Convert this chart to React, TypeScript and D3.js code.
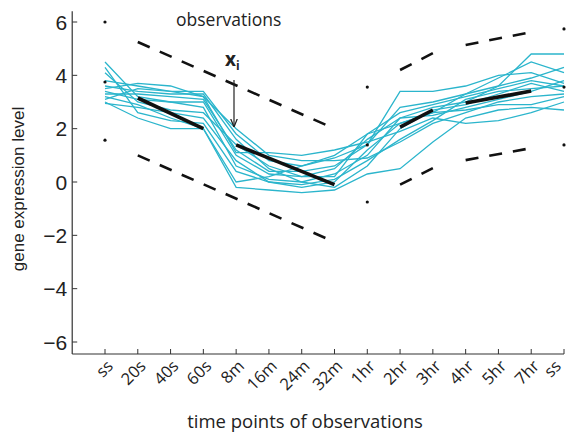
import { useEffect, useRef } from "react";
import * as d3 from "d3";

const timeLabels = ["ss", "20s", "40s", "60s", "8m", "16m", "24m", "32m", "1hr", "2hr", "3hr", "4hr", "5hr", "7hr", "ss"];
const yTicks = [6, 4, 2, 0, -2, -4, -6];

// observed trajectories (one value per time point)
const obs1 = [4.5, 3.2, 3.0, 3.0, 1.0, 0.3, 0.2, 0.5, 1.6, 2.4, 2.8, 3.0, 3.6, 4.8, 4.8];
const obs2 = [4.3, 2.6, 2.3, 2.2, 0.4, 0.0, -0.2, 0.0, 1.2, 2.2, 2.6, 3.3, 3.9, 4.5, 4.1];
const obs3 = [4.1, 3.0, 2.7, 2.6, 1.4, 0.6, 0.2, 0.2, 1.8, 2.6, 2.9, 3.2, 3.5, 3.8, 3.6];
const obs4 = [3.8, 3.6, 3.4, 3.4, 1.8, 0.8, 0.6, 0.9, 1.4, 3.4, 3.4, 3.6, 4.0, 4.1, 3.7];
const obs5 = [3.6, 3.4, 3.3, 3.3, 1.6, 0.5, 0.0, -0.2, 0.6, 2.0, 2.7, 2.9, 3.3, 3.7, 3.4];
const obs6 = [3.5, 3.7, 3.6, 3.2, 2.0, 1.0, 0.8, 0.8, 0.9, 1.5, 2.2, 2.6, 3.0, 3.2, 3.3];
const obs7 = [3.4, 3.1, 3.0, 2.8, 0.6, 0.1, 0.0, 0.3, 1.0, 2.4, 2.5, 2.8, 3.1, 3.4, 3.8];
const obs8 = [3.3, 3.3, 3.2, 3.1, 1.2, 0.4, 0.4, 0.6, 1.4, 2.8, 3.0, 3.3, 3.6, 3.9, 4.3];
const obs9 = [3.2, 2.9, 2.4, 2.0, -0.2, -0.3, -0.4, -0.3, 0.3, 0.5, 1.5, 2.4, 2.7, 2.8, 2.7];
const obs10 = [3.1, 3.5, 3.4, 3.2, 1.1, 1.1, 1.0, 1.2, 1.5, 1.9, 2.4, 2.2, 2.3, 2.6, 3.0];
const obs11 = [3.0, 2.4, 2.0, 2.0, 0.0, 0.2, 0.6, 1.0, 1.8, 2.2, 2.6, 2.7, 2.9, 2.9, 3.2];
const obs12 = [2.95, 2.8, 2.6, 2.4, 0.8, 0.0, -0.1, 0.1, 0.8, 1.6, 2.3, 3.1, 3.4, 3.5, 3.6];
const observations = [obs1, obs2, obs3, obs4, obs5, obs6, obs7, obs8, obs9, obs10, obs11, obs12];

// piecewise mean segments: [startIndex, endIndex, startValue, endValue]
const meanSegments = [
    [1, 3, 3.15, 2.0],
    [4, 7, 1.39, -0.1],
    [9, 10, 2.06, 2.7],
    [11, 13, 2.96, 3.41],
];
const upperSegments = [
    [1, 7, 5.25, 2.0],
    [9, 10, 4.2, 4.83],
    [11, 13, 5.14, 5.62],
];
const lowerSegments = [
    [1, 7, 1.0, -2.25],
    [9, 10, -0.1, 0.52],
    [11, 13, 0.82, 1.27],
];
// single points at the segment breaks: [index, value]
const pointMarks = [
    [0, 6.0], [0, 3.75], [0, 1.57],
    [8, 3.56], [8, 1.39], [8, -0.75],
    [14, 5.74], [14, 3.56], [14, 1.39],
];

const App = () => {
    const svgRef = useRef<SVGSVGElement>(null);
    const width = 571;
    const height = 433;

    useEffect(() => {
        const svgElement = svgRef.current;
        if (!svgElement) return;
        const svg = d3.select(svgElement);
        svg.selectAll("*").remove();

        const xScale = d3.scaleLinear().domain([0, 14]).range([105, 564]);
        const yScale = d3.scaleLinear().domain([-6, 6]).range([342, 22]);
        const axisLeftX = xScale(-1);
        const axisBottomY = yScale(-6.45);
        const axisTopY = yScale(6.4);

        const axisColor = "#333";
        const cyan = "#2bb5cc";

        // axes
        svg.append("line")
            .attr("x1", axisLeftX).attr("x2", axisLeftX)
            .attr("y1", axisTopY).attr("y2", axisBottomY)
            .attr("stroke", axisColor).attr("stroke-width", 1.2);
        svg.append("line")
            .attr("x1", axisLeftX).attr("x2", xScale(14))
            .attr("y1", axisBottomY).attr("y2", axisBottomY)
            .attr("stroke", axisColor).attr("stroke-width", 1.2);

        // y ticks
        const yt = svg.append("g").attr("class", "y-ticks");
        yt.selectAll("line")
            .data(yTicks)
            .join("line")
            .attr("x1", axisLeftX).attr("x2", axisLeftX + 5)
            .attr("y1", (d) => yScale(d)).attr("y2", (d) => yScale(d))
            .attr("stroke", axisColor);
        yt.selectAll("text")
            .data(yTicks)
            .join("text")
            .attr("x", axisLeftX - 5)
            .attr("y", (d) => yScale(d))
            .attr("dy", "0.36em")
            .attr("text-anchor", "end")
            .attr("font-family", "Liberation Sans, Arial, sans-serif")
            .attr("font-size", 21)
            .attr("fill", "#222")
            .text((d) => (d < 0 ? "\u2212" + Math.abs(d) : String(d)));

        // x ticks
        const xt = svg.append("g").attr("class", "x-ticks");
        xt.selectAll("line")
            .data(timeLabels)
            .join("line")
            .attr("x1", (_, i) => xScale(i)).attr("x2", (_, i) => xScale(i))
            .attr("y1", axisBottomY).attr("y2", axisBottomY - 5)
            .attr("stroke", axisColor);
        xt.selectAll("text")
            .data(timeLabels)
            .join("text")
            .attr("transform", (_, i) => {
                const x = Math.min(xScale(i) + 5, 558);
                return `translate(${x}, ${axisBottomY + 9}) rotate(-45)`;
            })
            .attr("text-anchor", "end")
            .attr("dy", "0.35em")
            .attr("font-family", "Open Sans, DejaVu Sans, sans-serif")
            .attr("font-size", 16.5)
            .attr("fill", "#222")
            .text((d) => d);

        // axis titles
        svg.append("text")
            .attr("transform", `translate(24, 189) rotate(-90)`)
            .attr("text-anchor", "middle")
            .attr("font-family", "Liberation Sans, Arial, sans-serif")
            .attr("font-size", 17)
            .attr("fill", "#222")
            .text("gene expression level");
        svg.append("text")
            .attr("x", 305)
            .attr("y", 428)
            .attr("text-anchor", "middle")
            .attr("font-family", "Open Sans, DejaVu Sans, sans-serif")
            .attr("font-size", 18.5)
            .attr("fill", "#222")
            .text("time points of observations");

        // observed lines
        const line = d3.line<number>()
            .x((_, i) => xScale(i))
            .y((d) => yScale(d));
        svg.append("g")
            .attr("class", "observations")
            .selectAll("path")
            .data(observations)
            .join("path")
            .attr("d", (d) => line(d))
            .attr("fill", "none")
            .attr("stroke", cyan)
            .attr("stroke-width", 1.3);

        // dashed bands and mean
        const drawSegments = (data: number[][], w: number, dash: string | null) => {
            svg.append("g")
                .selectAll("line")
                .data(data)
                .join("line")
                .attr("x1", (d) => xScale(d[0]))
                .attr("x2", (d) => xScale(d[1]))
                .attr("y1", (d) => yScale(d[2]))
                .attr("y2", (d) => yScale(d[3]))
                .attr("stroke", "#111")
                .attr("stroke-width", w)
                .attr("stroke-dasharray", dash);
        };
        drawSegments(upperSegments, 2.6, "13,11");
        drawSegments(lowerSegments, 2.6, "13,11");
        drawSegments(meanSegments, 3.6, null);

        svg.append("g")
            .selectAll("circle")
            .data(pointMarks)
            .join("circle")
            .attr("cx", (d) => xScale(d[0]))
            .attr("cy", (d) => yScale(d[1]))
            .attr("r", 1.6)
            .attr("fill", "#111");

        // annotations
        svg.append("text")
            .attr("x", 176)
            .attr("y", 26)
            .attr("font-family", "Open Sans, DejaVu Sans, sans-serif")
            .attr("font-size", 17.5)
            .attr("fill", "#222")
            .text("observations");

        const xi = svg.append("text")
            .attr("x", 225)
            .attr("y", 66)
            .attr("font-family", "Open Sans, DejaVu Sans, sans-serif")
            .attr("font-weight", "bold")
            .attr("font-size", 19)
            .attr("fill", "#222");
        xi.append("tspan").text("x");
        xi.append("tspan").attr("font-size", 12).attr("dy", 4).text("i");

        svg.append("defs")
            .append("marker")
            .attr("id", "arrow")
            .attr("viewBox", "0 0 10 10")
            .attr("refX", 10).attr("refY", 5)
            .attr("markerWidth", 7).attr("markerHeight", 7)
            .attr("orient", "auto")
            .append("path")
            .attr("d", "M0,1 L10,5 L0,9")
            .attr("fill", "none")
            .attr("stroke", "#222")
            .attr("stroke-width", 1.5);
        svg.append("line")
            .attr("x1", 234).attr("x2", 234)
            .attr("y1", 80).attr("y2", 127)
            .attr("stroke", "#222")
            .attr("stroke-width", 1.2)
            .attr("marker-end", "url(#arrow)");
    }, [width, height]);

    return (
        <svg
            ref={svgRef}
            width={width}
            height={height}
            style={{ position: "absolute", left: 0, top: 0, background: "#fff" }}
        ></svg>
    );
};

export default App;
